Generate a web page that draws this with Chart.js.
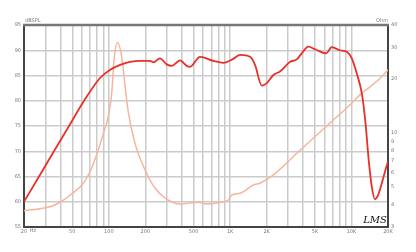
<!DOCTYPE html>
<html>
<head>
<meta charset="utf-8">
<script src="https://cdn.jsdelivr.net/npm/chart.js@4/dist/chart.umd.min.js"></script>
<style>
  html, body { margin: 0; padding: 0; background: #fff; }
  #wrap { width: 416px; height: 252px; }
</style>
</head>
<body>
<div id="wrap"><canvas id="chart" width="416" height="252"></canvas></div>
<script>
// Frequency response (dBSPL, left axis)
const splFreq = [20, 26.6, 35.3, 47, 62.5, 84.6, 102, 124, 150, 181, 219, 233, 264, 300, 330, 386, 439, 467, 565, 727, 879, 1063, 1208, 1460, 1604, 1822, 2004, 2272, 2578, 3120, 3541, 3892, 4413, 5010, 6180, 6881, 8060, 9145, 10060, 11060, 12160, 13000, 13900, 14700, 15600, 16500, 17800, 18900, 20000];
const splDb = [60, 65, 70, 75, 80, 84.5, 86.1, 87.1, 87.7, 87.9, 87.9, 87.6, 88.4, 87.2, 86.9, 88.0, 86.9, 86.7, 88.7, 87.9, 87.5, 88.3, 89.1, 88.7, 87.1, 83.0, 83.5, 85.1, 85.8, 87.7, 88.2, 89.4, 90.7, 90.2, 89.4, 90.6, 90.0, 89.7, 88.4, 85.4, 81.5, 76, 68, 63, 60.5, 61.2, 63.7, 66, 68];

// Impedance (Ohm, right axis)
const impFreq = [20, 32.8, 39.6, 49.5, 61.7, 70, 79.5, 90, 99, 105.7, 110.4, 118, 127.7, 136, 144, 164, 199, 240, 291, 386, 547, 641, 826, 966, 1030, 1208, 1552, 1764, 2272, 3770, 6670, 9750, 12160, 13800, 17220, 20000];
const impOhm = [3.70, 3.89, 4.12, 4.58, 5.26, 6.09, 7.6, 9.9, 12.4, 16.7, 25.6, 32, 26.7, 18.5, 13.4, 8.82, 6.23, 4.95, 4.35, 4.03, 4.12, 4.03, 4.12, 4.24, 4.52, 4.62, 5.14, 5.26, 5.85, 8.02, 11.4, 14.4, 16.7, 17.8, 20.2, 22.5];

// Axis ticks
const freqGrid = [20, 30, 40, 50, 60, 70, 80, 90, 100, 200, 300, 400, 500, 600, 700, 800, 900, 1000, 2000, 3000, 4000, 5000, 6000, 7000, 8000, 9000, 10000, 20000];
const freqLabels = { 20: '20', 50: '50', 100: '100', 200: '200', 500: '500', 1000: '1K', 2000: '2K', 5000: '5K', 10000: '10K', 20000: '20K' };
const ohmTicks = [3, 4, 5, 6, 7, 8, 9, 10, 20, 30, 40];

const tickFont = { family: 'DejaVu Sans', size: 5 };
const tickColor = '#777';
const gridColor = '#cbcbcb';

const extras = {
    id: 'extras',
    afterDraw(chart) {
        const ctx = chart.ctx;
        const a = chart.chartArea;
        ctx.save();
        // top frame line
        ctx.strokeStyle = '#777';
        ctx.lineWidth = 2.5;
        ctx.beginPath();
        ctx.moveTo(a.left - 1, a.top);
        ctx.lineTo(a.right + 1, a.top);
        ctx.stroke();

        ctx.fillStyle = tickColor;
        ctx.font = '5px "DejaVu Sans"';
        ctx.textBaseline = 'bottom';
        ctx.textAlign = 'left';
        ctx.fillText('dBSPL', a.left + 1, a.top - 2);
        ctx.textAlign = 'right';
        ctx.fillText('Ohm', a.right, a.top - 2);
        ctx.textAlign = 'center';
        ctx.textBaseline = 'middle';
        ctx.fillText('Hz', 33, 231);

        ctx.fillStyle = '#111';
        ctx.font = 'italic 10px "DejaVu Serif"';
        ctx.fillText('LMS', 375, 220);
        ctx.restore();
    }
};

new Chart(document.getElementById('chart'), {
    type: 'line',
    data: {
        datasets: [
            {
                label: 'SPL',
                data: splFreq.map((f, i) => ({ x: f, y: splDb[i] })),
                yAxisID: 'y',
                borderColor: '#e8302a',
                borderWidth: 1.8,
                pointRadius: 0,
                cubicInterpolationMode: 'monotone',
                order: 1
            },
            {
                label: 'Impedance',
                data: impFreq.map((f, i) => ({ x: f, y: impOhm[i] })),
                yAxisID: 'y2',
                borderColor: '#f7b59b',
                borderWidth: 1.5,
                pointRadius: 0,
                cubicInterpolationMode: 'monotone',
                order: 2
            }
        ]
    },
    options: {
        responsive: false,
        animation: false,
        layout: { padding: { top: 25, left: 0, right: 0, bottom: 0 } },
        plugins: { legend: { display: false }, tooltip: { enabled: false } },
        scales: {
            x: {
                type: 'logarithmic',
                min: 20,
                max: 20000,
                afterBuildTicks: s => { s.ticks = freqGrid.map(v => ({ value: v })); },
                afterFit: s => { s.height = 25; },
                grid: { color: gridColor, lineWidth: 1.5, drawTicks: false },
                border: { color: '#444', width: 2 },
                ticks: {
                    autoSkip: false,
                    maxRotation: 0,
                    padding: 2,
                    font: tickFont,
                    color: tickColor,
                    callback: v => freqLabels[v] || ''
                }
            },
            y: {
                type: 'linear',
                position: 'left',
                min: 55,
                max: 95,
                afterFit: s => { s.width = 24; },
                grid: { color: gridColor, lineWidth: 1.5, drawTicks: false },
                border: { color: '#444', width: 2 },
                ticks: { stepSize: 5, padding: 3, font: tickFont, color: tickColor }
            },
            y2: {
                type: 'logarithmic',
                position: 'right',
                min: 3,
                max: 40,
                afterBuildTicks: s => { s.ticks = ohmTicks.map(v => ({ value: v })); },
                afterFit: s => { s.width = 28; },
                grid: { display: false, drawTicks: false },
                border: { color: '#444', width: 2 },
                ticks: { padding: 3, font: tickFont, color: tickColor, autoSkip: false, callback: v => String(v) }
            }
        }
    },
    plugins: [extras]
});
</script>
</body>
</html>
